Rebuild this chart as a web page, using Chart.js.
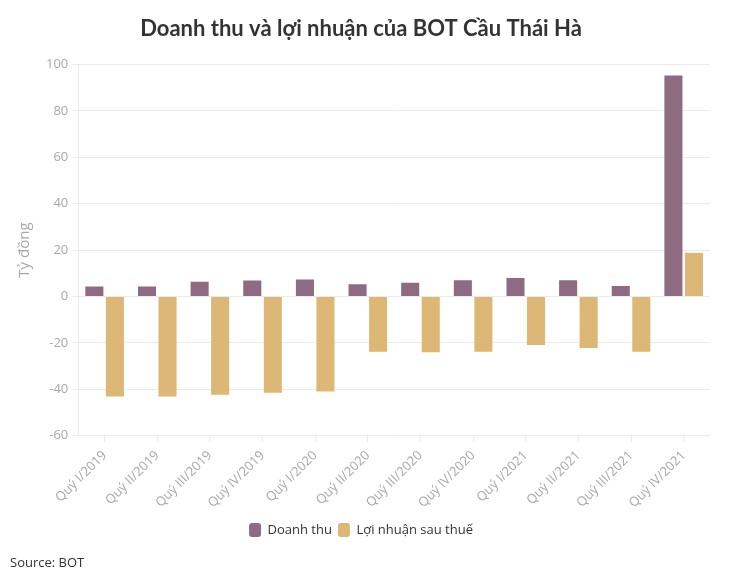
<!DOCTYPE html>
<html>
<head>
<meta charset="utf-8">
<script src="https://cdn.jsdelivr.net/npm/chart.js@4.4.1/dist/chart.umd.min.js"></script>
<style>
  body { margin: 0; background: #fff; }
  #wrap { position: relative; width: 732px; height: 576px; }
  #source { position: absolute; left: 10px; top: 553px; font: 13px "Open Sans", sans-serif; color: #333; }
</style>
</head>
<body>
<div id="wrap">
  <canvas id="chart" width="732" height="576"></canvas>
  <div id="source">Source: BOT</div>
</div>
<script>
const quarters = ['Quý I/2019', 'Quý II/2019', 'Quý III/2019', 'Quý IV/2019', 'Quý I/2020', 'Quý II/2020',
    'Quý III/2020', 'Quý IV/2020', 'Quý I/2021', 'Quý II/2021', 'Quý III/2021', 'Quý IV/2021'];
const revenue = [4.3, 4.3, 6.4, 6.9, 7.3, 5.3, 5.9, 7.0, 8.0, 7.0, 4.5, 95.2];
const profit = [-43.1, -43.1, -42.3, -41.5, -40.9, -23.8, -24.0, -23.8, -20.9, -22.2, -23.8, 18.9];
const yTicks = [-60, -40, -20, 0, 20, 40, 60, 80, 100];

const tickColor = '#a8a8a8';
const gridColor = '#ebebeb';

new Chart(document.getElementById('chart'), {
    type: 'bar',
    data: {
        labels: quarters,
        datasets: [
            { label: 'Doanh thu', data: revenue, backgroundColor: '#8f6b83' },
            { label: 'Lợi nhuận sau thuế', data: profit, backgroundColor: '#ddb776' }
        ]
    },
    options: {
        responsive: false,
        animation: false,
        layout: { padding: { left: 12, right: 22, top: 0, bottom: 29 } },
        datasets: { bar: { categoryPercentage: 0.78, barPercentage: 0.88 } },
        plugins: {
            title: {
                display: true,
                text: 'Doanh thu và lợi nhuận của BOT Cầu Thái Hà',
                color: '#333',
                font: { family: 'Lato', size: 22, weight: 'bold' },
                padding: { top: 16, bottom: 22 }
            },
            legend: {
                position: 'bottom',
                labels: {
                    color: '#333',
                    font: { family: 'Open Sans', size: 13 },
                    boxWidth: 12,
                    boxHeight: 14,
                    padding: 6,
                    useBorderRadius: true,
                    borderRadius: 3
                }
            },
            tooltip: { enabled: false }
        },
        scales: {
            x: {
                grid: { display: true, drawOnChartArea: false, color: gridColor, tickLength: 6, offset: false },
                border: { display: false },
                ticks: {
                    color: tickColor,
                    font: { family: 'Open Sans', size: 13 },
                    maxRotation: 45, minRotation: 45,
                    padding: 6
                }
            },
            y: {
                min: -60, max: 100,
                afterBuildTicks: axis => { axis.ticks = yTicks.map(v => ({ value: v })); },
                grid: { color: gridColor, tickLength: 6 },
                border: { display: true, color: gridColor },
                ticks: {
                    color: tickColor,
                    font: { family: 'Open Sans', size: 13 },
                    padding: 4
                },
                title: {
                    display: true,
                    text: 'Tỷ đồng',
                    color: tickColor,
                    font: { family: 'Open Sans', size: 15 },
                    padding: { bottom: 8 }
                }
            }
        }
    }
});
</script>
</body>
</html>
